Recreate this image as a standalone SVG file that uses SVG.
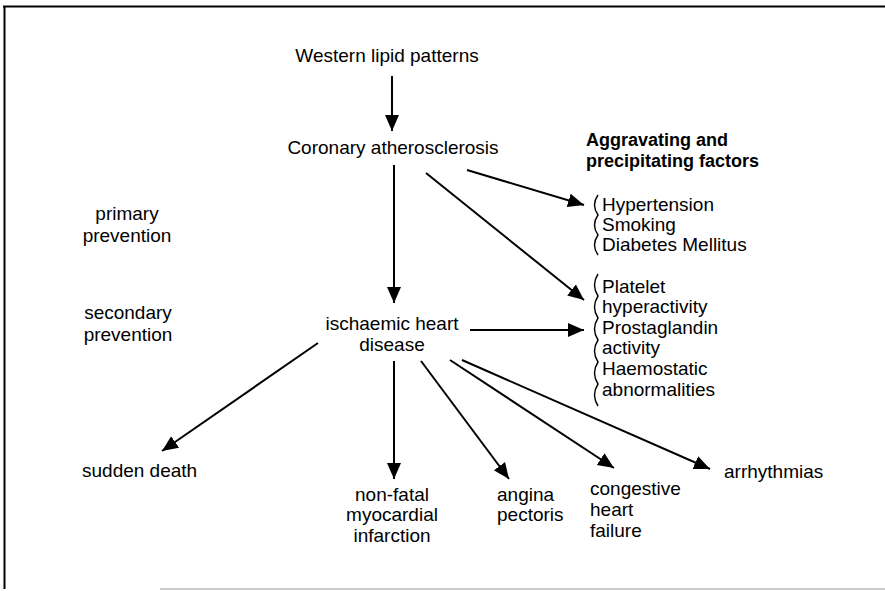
<svg xmlns="http://www.w3.org/2000/svg" width="885" height="591" viewBox="0 0 885 591">
<style>
text{font-family:"Liberation Sans",Arial,sans-serif;font-size:19px;fill:#000}
.b{font-weight:bold;font-size:18px}
.m{text-anchor:middle}
.c line{stroke:#000;stroke-width:2;marker-end:url(#ah)}
.br{fill:none;stroke:#000;stroke-width:1.4}
</style>
<defs>
<marker id="ah" markerUnits="userSpaceOnUse" markerWidth="18" markerHeight="16" refX="16" refY="8" orient="auto">
<path d="M0,1 L16,8 L0,15 Z" fill="#000"/>
</marker>
</defs>
<rect width="885" height="591" fill="#fff"/>
<g id="frame" fill="none" stroke="#000">
<line x1="3" y1="6.5" x2="885" y2="6.5" stroke-width="2"/>
<line x1="4.5" y1="6" x2="4.5" y2="589" stroke-width="2"/>
<line x1="160" y1="589" x2="885" y2="589" stroke="#bbb" stroke-width="1.5"/>
</g>
<g class="c" id="connectors">
<line x1="392" y1="76" x2="392" y2="131"/>
<line x1="394" y1="165" x2="394" y2="303"/>
<line x1="467" y1="170" x2="584" y2="205"/>
<line x1="426" y1="173" x2="584" y2="300"/>
<line x1="470" y1="330" x2="584" y2="330"/>
<line x1="318" y1="343" x2="162" y2="451"/>
<line x1="394" y1="361" x2="394" y2="479"/>
<line x1="421" y1="361" x2="509" y2="479"/>
<line x1="450" y1="360" x2="614" y2="468"/>
<line x1="462" y1="360" x2="710" y2="469"/>
</g>
<g id="western"><text class="m" x="387" y="62">Western lipid patterns</text></g>
<g id="coronary"><text class="m" x="393" y="154">Coronary atherosclerosis</text></g>
<g id="aggravating">
<text class="b" x="586" y="146">Aggravating and</text>
<text class="b" x="586" y="167">precipitating factors</text>
</g>
<g id="risk1">
<path class="br" d="M598,195 q-7,10 0,20 q-7,10 0,20 q-7,10 0,20"/>
<text x="602" y="211">Hypertension</text>
<text x="602" y="231">Smoking</text>
<text x="602" y="251">Diabetes Mellitus</text>
</g>
<g id="risk2">
<path class="br" d="M598,274 q-7,11 0,22 q-7,11 0,22 q-7,11 0,22 q-7,11 0,22 q-7,11 0,22 q-7,11 0,22"/>
<text x="602" y="293">Platelet</text>
<text x="602" y="313">hyperactivity</text>
<text x="602" y="334">Prostaglandin</text>
<text x="602" y="354">activity</text>
<text x="602" y="375">Haemostatic</text>
<text x="602" y="396">abnormalities</text>
</g>
<g id="primary">
<text class="m" x="127" y="220">primary</text>
<text class="m" x="127" y="242">prevention</text>
</g>
<g id="secondary">
<text class="m" x="128" y="319">secondary</text>
<text class="m" x="128" y="341">prevention</text>
</g>
<g id="ihd">
<text class="m" x="392" y="330">ischaemic heart</text>
<text class="m" x="392" y="351">disease</text>
</g>
<g id="sudden"><text x="82" y="477">sudden death</text></g>
<g id="nonfatal">
<text class="m" x="392" y="501">non-fatal</text>
<text class="m" x="392" y="521">myocardial</text>
<text class="m" x="392" y="542">infarction</text>
</g>
<g id="angina">
<text x="497" y="501">angina</text>
<text x="497" y="521">pectoris</text>
</g>
<g id="chf">
<text x="590" y="495">congestive</text>
<text x="590" y="516">heart</text>
<text x="590" y="537">failure</text>
</g>
<g id="arrhythmias"><text x="724" y="478">arrhythmias</text></g>
</svg>
